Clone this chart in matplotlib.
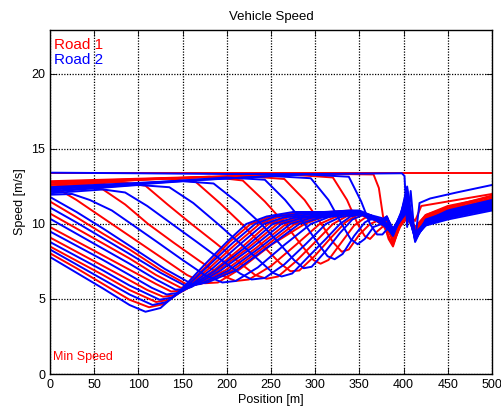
import matplotlib
matplotlib.use("Agg")
import matplotlib.pyplot as plt

# position [m] / speed [m/s] of every run
road1_pos = [
    [0, 30, 60, 90, 112, 128, 150, 177, 203, 227, 250, 280, 315, 340, 350, 362, 375, 381, 388, 396, 404, 413, 425, 450, 500],
    [0, 30, 60, 90, 120, 135, 152, 181, 209, 237, 260, 290, 320, 340, 350, 362, 375, 381, 388, 396, 404, 413, 425, 450, 500],
    [0, 30, 60, 90, 110, 128, 141, 154, 185, 216, 247, 270, 300, 325, 340, 350, 362, 375, 381, 388, 396, 404, 413, 425, 450, 500],
    [0, 30, 60, 90, 120, 137, 148, 157, 190, 224, 257, 280, 310, 330, 340, 350, 362, 375, 381, 388, 396, 404, 413, 425, 450, 500],
    [0, 30, 60, 90, 120, 148, 165, 198, 233, 267, 290, 315, 340, 350, 362, 375, 381, 388, 396, 404, 413, 425, 450, 500],
    [0, 30, 60, 90, 125, 157, 173, 206, 241, 277, 300, 322, 340, 350, 362, 375, 381, 388, 396, 404, 413, 425, 450, 500],
    [0, 10, 30, 50, 70, 100, 130, 155, 175, 190, 215, 250, 288, 310, 330, 340, 350, 362, 375, 381, 388, 396, 404, 413, 425, 450, 500],
    [0, 40, 60, 85, 111, 140, 170, 193, 210, 225, 250, 278, 305, 322, 340, 350, 362, 375, 381, 388, 396, 404, 413, 425, 450, 500],
    [0, 80, 108, 133, 160, 188, 215, 232, 245, 258, 278, 300, 320, 335, 348, 362, 375, 381, 388, 396, 404, 413, 425, 450, 500],
    [0, 130, 165, 192, 217, 240, 260, 272, 282, 300, 318, 334, 346, 356, 375, 381, 388, 396, 404, 413, 425, 450, 500],
    [0, 180, 218, 243, 266, 283, 298, 306, 315, 330, 344, 356, 365, 375, 381, 388, 396, 404, 413, 425, 450, 500],
    [0, 220, 265, 288, 307, 320, 330, 338, 350, 362, 370, 378, 388, 396, 404, 413, 425, 450, 500],
    [0, 270, 320, 336, 348, 356, 362, 370, 378, 388, 396, 404, 413, 425, 450, 500],
    [0, 300, 366, 372, 378, 383, 388, 396, 404, 413, 420, 450, 500],
    [0, 500],
]
road1_speed = [
    [8.05, 7.05, 6.0, 4.95, 4.45, 4.65, 5.65, 7.2, 8.8, 10.0, 10.5, 10.75, 10.8, 10.9, 10.8, 10.5, 10.2, 10.4, 9.6, 10.0, 10.5, 9.5, 10.1, 10.6, 11.1],
    [8.5, 7.55, 6.6, 5.6, 4.8, 4.95, 5.65, 7.1, 8.6, 10.0, 10.5, 10.7, 10.75, 10.85, 10.75, 10.4, 10.3, 9.9, 9.7, 10.1, 10.4, 9.6, 10.0, 10.5, 11.0],
    [9.1, 8.15, 7.2, 6.25, 5.6, 5.15, 5.25, 5.65, 6.9, 8.4, 10.0, 10.45, 10.65, 10.7, 10.8, 10.7, 10.5, 10.0, 10.3, 9.2, 10.2, 10.6, 9.6, 10.2, 10.8, 11.4],
    [9.8, 8.85, 7.9, 6.95, 6.0, 5.5, 5.55, 5.75, 6.9, 8.4, 10.0, 10.4, 10.6, 10.7, 10.75, 10.7, 10.6, 10.2, 9.8, 9.5, 10.0, 10.3, 9.7, 10.4, 11.0, 11.5],
    [10.7, 9.7, 8.7, 7.7, 6.6, 5.75, 5.95, 6.9, 8.4, 10.0, 10.4, 10.6, 10.7, 10.65, 10.5, 10.1, 10.4, 9.4, 10.3, 10.7, 9.5, 10.3, 10.9, 11.6],
    [11.5, 10.45, 9.35, 8.3, 6.95, 5.9, 6.05, 6.9, 8.4, 10.0, 10.4, 10.6, 10.7, 10.7, 10.4, 10.3, 9.9, 9.3, 10.1, 10.5, 9.6, 10.5, 11.1, 11.7],
    [12.35, 12.3, 11.6, 10.8, 10.0, 8.8, 7.6, 6.6, 6.05, 6.1, 7.0, 8.6, 10.0, 10.5, 10.7, 10.75, 10.8, 10.6, 10.2, 10.0, 9.0, 10.0, 10.4, 9.8, 10.6, 11.2, 11.8],
    [12.45, 12.55, 12.3, 11.3, 10.0, 8.75, 7.5, 6.6, 6.2, 6.3, 7.2, 8.6, 10.0, 10.45, 10.65, 10.65, 10.5, 10.0, 10.2, 8.8, 10.2, 10.6, 9.5, 10.2, 10.7, 11.3],
    [12.5, 12.8, 12.55, 11.3, 10.0, 8.7, 7.4, 6.6, 6.35, 6.5, 7.5, 8.8, 10.0, 10.5, 10.65, 10.4, 10.1, 10.5, 9.3, 10.1, 10.5, 9.7, 10.4, 10.9, 11.5],
    [12.6, 13.05, 12.8, 11.4, 10.0, 8.6, 7.4, 6.85, 6.9, 7.9, 9.1, 10.1, 10.55, 10.6, 10.2, 9.8, 9.1, 10.0, 10.4, 9.6, 10.3, 10.8, 11.4],
    [12.65, 13.15, 12.9, 11.5, 10.0, 8.7, 7.6, 7.35, 7.6, 8.8, 9.9, 10.4, 10.5, 10.0, 10.3, 8.7, 9.8, 10.5, 9.8, 10.5, 11.0, 11.6],
    [12.75, 13.2, 13.0, 11.6, 10.0, 8.8, 8.15, 8.3, 9.3, 10.0, 10.2, 9.8, 8.6, 9.9, 10.6, 9.6, 10.4, 10.9, 11.6],
    [12.8, 13.3, 13.1, 11.6, 10.0, 9.2, 9.0, 9.5, 9.9, 9.0, 10.0, 10.7, 9.7, 10.6, 11.1, 11.9],
    [12.85, 13.35, 13.3, 12.4, 10.0, 9.0, 8.5, 10.0, 10.8, 10.2, 11.2, 11.5, 12.0],
    [13.42, 13.42],
]

road2_pos = [
    [0, 30, 60, 90, 108, 125, 148, 175, 200, 222, 245, 275, 310, 340, 350, 362, 375, 381, 388, 396, 404, 413, 425, 450, 500],
    [0, 30, 60, 90, 116, 132, 151, 179, 206, 232, 255, 285, 318, 340, 350, 362, 375, 381, 388, 396, 404, 413, 425, 450, 500],
    [0, 30, 60, 90, 124, 138, 153, 183, 212, 242, 265, 295, 322, 340, 350, 362, 375, 381, 388, 396, 404, 413, 425, 450, 500],
    [0, 30, 60, 90, 115, 132, 144, 155, 187, 220, 252, 275, 305, 328, 340, 350, 362, 375, 381, 388, 396, 404, 413, 425, 450, 500],
    [0, 30, 60, 90, 120, 142, 152, 160, 193, 228, 262, 285, 312, 332, 340, 350, 362, 375, 381, 388, 396, 404, 413, 425, 450, 500],
    [0, 30, 60, 90, 125, 154, 170, 202, 237, 272, 295, 320, 340, 350, 362, 375, 381, 388, 396, 404, 413, 425, 450, 500],
    [0, 30, 60, 90, 130, 162, 178, 210, 245, 282, 305, 325, 340, 350, 362, 375, 381, 388, 396, 404, 413, 425, 450, 500],
    [0, 25, 45, 70, 92, 120, 150, 175, 195, 210, 235, 265, 295, 315, 335, 350, 362, 375, 381, 388, 396, 404, 413, 425, 450, 500],
    [0, 60, 85, 110, 138, 165, 195, 215, 228, 243, 265, 290, 312, 328, 345, 350, 362, 375, 381, 388, 396, 404, 413, 425, 450, 500],
    [0, 100, 135, 162, 190, 215, 238, 252, 262, 274, 292, 312, 328, 340, 352, 362, 375, 381, 388, 396, 404, 413, 425, 450, 500],
    [0, 150, 185, 213, 239, 258, 276, 287, 296, 312, 328, 342, 354, 362, 375, 381, 388, 396, 404, 413, 425, 450, 500],
    [0, 200, 243, 266, 288, 302, 314, 322, 331, 344, 356, 365, 375, 381, 388, 396, 404, 413, 425, 450, 500],
    [0, 250, 295, 315, 330, 340, 348, 356, 366, 375, 388, 396, 404, 413, 425, 450, 500],
    [0, 290, 338, 352, 362, 370, 376, 382, 388, 396, 404, 413, 425, 450, 500],
    [0, 100, 200, 300, 398, 401, 404, 408, 413, 418, 430, 460, 500],
]
road2_speed = [
    [7.8, 6.75, 5.7, 4.6, 4.15, 4.4, 5.6, 7.3, 8.8, 10.0, 10.5, 10.8, 10.8, 10.9, 10.9, 10.6, 10.4, 10.0, 9.4, 10.3, 10.9, 9.2, 9.9, 10.3, 10.9],
    [8.3, 7.3, 6.3, 5.3, 4.6, 4.8, 5.65, 7.2, 8.7, 10.0, 10.5, 10.7, 10.8, 10.85, 10.7, 10.6, 10.1, 10.5, 9.3, 10.4, 11.2, 9.3, 10.0, 10.4, 11.0],
    [8.8, 7.85, 6.9, 5.9, 4.95, 5.1, 5.65, 7.0, 8.5, 10.0, 10.45, 10.65, 10.7, 10.8, 10.8, 10.5, 10.2, 9.8, 9.5, 10.2, 10.8, 9.1, 9.9, 10.5, 11.1],
    [9.5, 8.55, 7.6, 6.6, 5.75, 5.3, 5.4, 5.7, 6.9, 8.4, 10.0, 10.4, 10.6, 10.7, 10.8, 10.75, 10.3, 10.3, 10.5, 9.6, 10.5, 11.5, 9.4, 10.1, 10.6, 11.2],
    [10.35, 9.35, 8.35, 7.35, 6.3, 5.62, 5.65, 5.8, 6.9, 8.4, 10.0, 10.4, 10.6, 10.7, 10.75, 10.8, 10.4, 10.1, 9.7, 9.4, 10.3, 11.0, 9.0, 10.0, 10.6, 11.3],
    [11.1, 10.1, 9.05, 8.0, 6.75, 5.85, 6.0, 6.9, 8.4, 10.0, 10.4, 10.6, 10.7, 10.7, 10.5, 10.2, 10.4, 9.7, 10.4, 11.8, 9.3, 10.2, 10.7, 11.4],
    [11.8, 10.8, 9.7, 8.55, 7.0, 5.95, 6.1, 6.9, 8.4, 10.0, 10.4, 10.6, 10.7, 10.75, 10.5, 10.0, 9.8, 9.5, 10.2, 10.9, 9.2, 10.1, 10.8, 11.5],
    [11.95, 12.0, 11.6, 10.9, 10.0, 8.85, 7.6, 6.6, 6.1, 6.2, 7.1, 8.6, 10.0, 10.45, 10.65, 10.7, 10.4, 10.1, 10.3, 9.4, 10.6, 12.0, 9.1, 10.2, 10.9, 11.6],
    [12.05, 12.3, 12.1, 11.2, 10.0, 8.85, 7.55, 6.7, 6.3, 6.4, 7.3, 8.7, 10.0, 10.45, 10.65, 10.7, 10.5, 10.2, 9.9, 9.6, 10.3, 11.2, 9.3, 10.1, 10.5, 11.0],
    [12.15, 12.6, 12.45, 11.4, 10.0, 8.7, 7.5, 6.75, 6.5, 6.7, 7.8, 9.0, 10.0, 10.5, 10.65, 10.6, 10.2, 10.4, 9.5, 10.4, 12.3, 8.9, 10.2, 10.7, 11.3],
    [12.2, 12.85, 12.7, 11.4, 10.0, 8.8, 7.6, 7.05, 7.15, 8.2, 9.4, 10.3, 10.6, 10.5, 10.1, 9.8, 9.6, 10.5, 11.5, 9.2, 10.1, 10.6, 11.2],
    [12.3, 13.1, 12.95, 11.6, 10.0, 8.8, 7.85, 7.65, 8.0, 9.2, 10.1, 10.4, 10.2, 10.0, 9.3, 10.3, 11.0, 9.0, 10.0, 10.4, 11.1],
    [12.35, 13.2, 13.05, 11.6, 10.0, 9.0, 8.65, 9.0, 9.8, 10.0, 9.5, 10.6, 11.3, 9.2, 10.2, 10.7, 11.4],
    [12.45, 13.3, 13.15, 11.5, 10.0, 9.3, 9.3, 9.7, 9.2, 10.4, 12.5, 8.8, 10.3, 10.8, 11.5],
    [13.42, 13.38, 13.33, 13.33, 13.38, 13.2, 9.8, 12.2, 8.9, 11.4, 11.7, 12.1, 12.6],
]

x_ticks = [0, 50, 100, 150, 200, 250, 300, 350, 400, 450, 500]
y_ticks = [0, 5, 10, 15, 20]

plt.rcParams['font.family'] = ['Liberation Sans', 'DejaVu Sans']

fig = plt.figure(figsize=(5.02, 4.12), dpi=100)
ax = fig.add_axes([0.0996, 0.0922, 0.8805, 0.835])

for px, sp in zip(road1_pos, road1_speed):
    ax.plot(px, sp, color=(1, 0, 0), lw=1.4)
for px, sp in zip(road2_pos, road2_speed):
    ax.plot(px, sp, color=(0, 0, 1), lw=1.4)

ax.set_xlim(0, 500)
ax.set_ylim(0, 22.93)
ax.set_xticks(x_ticks)
ax.set_yticks(y_ticks)
ax.grid(True, linestyle=(0, (1, 1.2)), color='k', linewidth=0.9)
ax.set_axisbelow(True)
ax.tick_params(direction='in', top=True, right=True, length=4, labelsize=9, width=0.6)
for s in ax.spines.values():
    s.set_linewidth(1.0)

ax.set_title("Vehicle Speed", fontsize=9.5, pad=7)
ax.set_xlabel("Position [m]", fontsize=9, labelpad=2)
ax.set_ylabel("Speed [m/s]", fontsize=9, labelpad=4)

ax.text(0.009, 0.956, "Road 1", color=(1, 0, 0), fontsize=11, transform=ax.transAxes, va='center')
ax.text(0.009, 0.912, "Road 2", color=(0, 0, 1), fontsize=11, transform=ax.transAxes, va='center')
ax.text(0.006, 0.049, "Min Speed", color=(1, 0, 0), fontsize=9, transform=ax.transAxes, va='center')

fig.savefig("out.png", dpi=100)
